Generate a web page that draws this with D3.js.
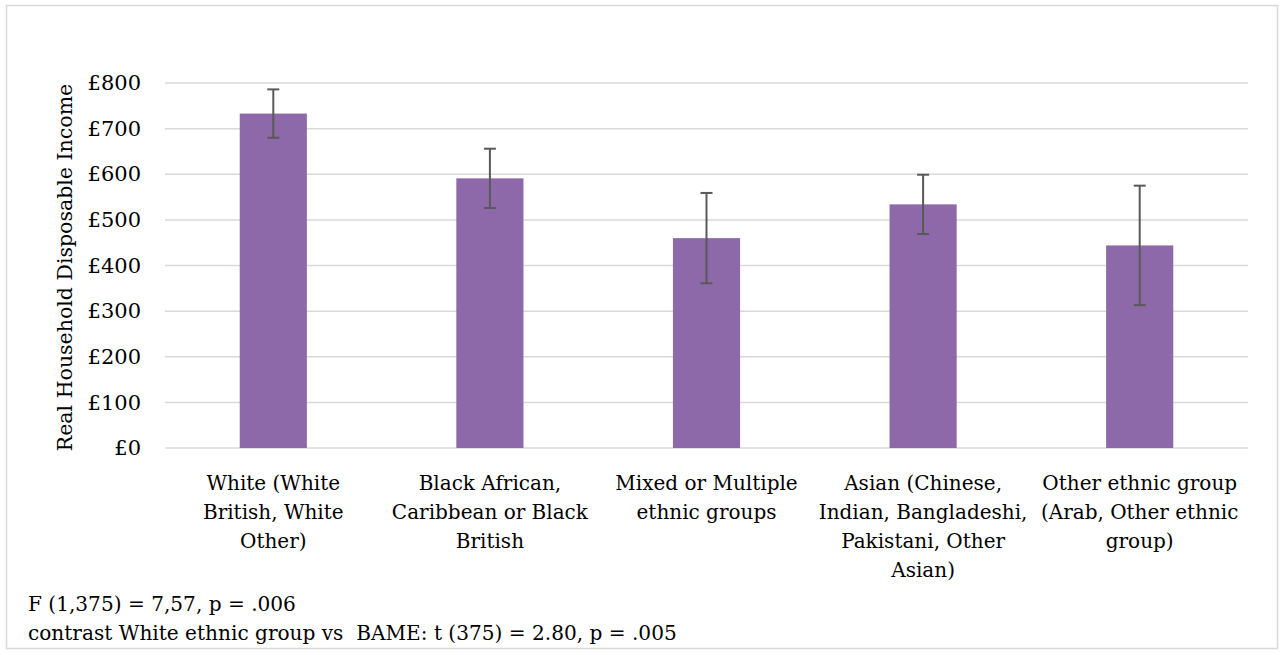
<!DOCTYPE html>
<html>
<head>
<meta charset="utf-8">
<script src="https://cdn.jsdelivr.net/npm/d3@7"></script>
<style>
  html, body { margin: 0; padding: 0; background: #fff; }
  svg { display: block; }
  text { font-family: "DejaVu Serif", "Liberation Serif", serif; fill: #000; white-space: pre; }
</style>
</head>
<body>
<svg id="chart" width="1284" height="655"></svg>
<script>
// ---- data ----
const categories = [
  "White (White|British, White|Other)",
  "Black African,|Caribbean or Black|British",
  "Mixed or Multiple|ethnic groups",
  "Asian (Chinese,|Indian, Bangladeshi,|Pakistani, Other|Asian)",
  "Other ethnic group|(Arab, Other ethnic|group)"
];
const means = [733, 591, 460, 534, 444];
const errors = [53, 65, 99, 65, 131];
const yTicks = [0, 100, 200, 300, 400, 500, 600, 700, 800];
const yTitle = "Real Household Disposable Income";
const footnotes = [
  "F (1,375) = 7,57, p = .006",
  "contrast White ethnic group vs  BAME: t (375) = 2.80, p = .005"
];

// ---- layout ----
const svg = d3.select("#chart");
const plot = { left: 165, right: 1248, top: 83, bottom: 448 };

svg.append("rect")
  .attr("x", 6.5).attr("y", 5.5)
  .attr("width", 1271).attr("height", 643)
  .attr("fill", "#fff").attr("stroke", "#d9d9d9").attr("stroke-width", 1.5);

const x = d3.scaleBand()
  .domain(categories)
  .range([plot.left, plot.right])
  .paddingInner(0.69).paddingOuter(0.345);

const y = d3.scaleLinear().domain([0, 800]).range([plot.bottom, plot.top]);

// gridlines
svg.append("g").selectAll("line").data(yTicks).join("line")
  .attr("x1", plot.left).attr("x2", plot.right)
  .attr("y1", d => y(d)).attr("y2", d => y(d))
  .attr("stroke", "#d9d9d9").attr("stroke-width", 1.5);

// y axis labels via axis
const yAxis = d3.axisLeft(y).tickValues(yTicks).tickSize(0).tickPadding(0)
  .tickFormat(d => "£" + d);
const gy = svg.append("g").attr("transform", `translate(141,0)`).call(yAxis);
gy.select(".domain").remove();
gy.selectAll("text")
  .attr("font-family", "DejaVu Serif")
  .attr("font-size", 21)
  .attr("fill", "#000");

// y title
svg.append("text")
  .attr("transform", `translate(72, ${(plot.top + plot.bottom) / 2 + 2}) rotate(-90)`)
  .attr("text-anchor", "middle")
  .attr("font-size", 20.5)
  .text(yTitle);

// bars
svg.append("g").selectAll("rect").data(categories).join("rect")
  .attr("x", d => x(d))
  .attr("width", x.bandwidth())
  .attr("y", (d, i) => y(means[i]))
  .attr("height", (d, i) => y(0) - y(means[i]))
  .attr("fill", "#8e69aa");

// error bars
const eg = svg.append("g").attr("stroke", "#595959").attr("stroke-width", 2);
categories.forEach((c, i) => {
  const cx = x(c) + x.bandwidth() / 2;
  const hi = y(means[i] + errors[i]), lo = y(means[i] - errors[i]);
  eg.append("line").attr("x1", cx).attr("x2", cx).attr("y1", hi).attr("y2", lo);
  eg.append("line").attr("x1", cx - 6).attr("x2", cx + 6).attr("y1", hi).attr("y2", hi);
  eg.append("line").attr("x1", cx - 6).attr("x2", cx + 6).attr("y1", lo).attr("y2", lo);
});

// category labels
const gx = svg.append("g");
categories.forEach(c => {
  const cx = x(c) + x.bandwidth() / 2;
  const t = gx.append("text")
    .attr("text-anchor", "middle")
    .attr("font-size", 20);
  c.split("|").forEach((line, j) => {
    t.append("tspan").attr("x", cx).attr("y", 490 + j * 29).text(line);
  });
});

// footnotes
footnotes.forEach((f, i) => {
  svg.append("text")
    .attr("x", 28).attr("y", 611 + i * 29)
    .attr("font-size", 20.1)
    .text(f);
});
</script>
</body>
</html>
